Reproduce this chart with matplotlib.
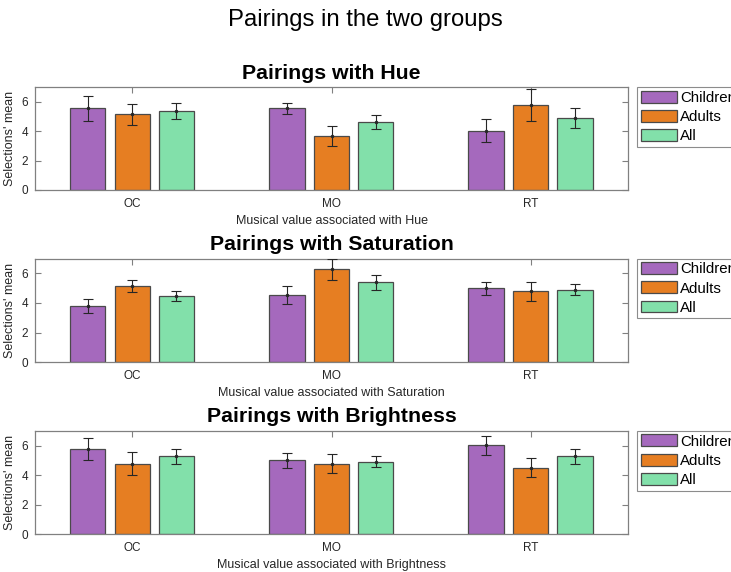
import numpy as np
import matplotlib
matplotlib.use("Agg")
import matplotlib.pyplot as plt

plt.rcParams['font.family'] = ['Liberation Sans', 'DejaVu Sans']

# Musical values on the x axis
categories = ["OC", "MO", "RT"]
groups = ["Children", "Adults", "All"]

# Mean number of selections and error half-widths, per colour dimension
hue_means = {
    "Children": [5.55, 5.55, 4.03],
    "Adults":   [5.15, 3.65, 5.78],
    "All":      [5.35, 4.60, 4.89],
}
hue_err = {
    "Children": [0.85, 0.37, 0.78],
    "Adults":   [0.70, 0.68, 1.10],
    "All":      [0.55, 0.47, 0.70],
}
sat_means = {
    "Children": [3.78, 4.52, 5.00],
    "Adults":   [5.13, 6.27, 4.78],
    "All":      [4.45, 5.40, 4.88],
}
sat_err = {
    "Children": [0.48, 0.60, 0.43],
    "Adults":   [0.41, 0.72, 0.63],
    "All":      [0.34, 0.52, 0.37],
}
bri_means = {
    "Children": [5.77, 5.01, 6.02],
    "Adults":   [4.78, 4.77, 4.51],
    "All":      [5.26, 4.91, 5.27],
}
bri_err = {
    "Children": [0.74, 0.50, 0.64],
    "Adults":   [0.75, 0.64, 0.66],
    "All":      [0.53, 0.38, 0.49],
}

dimensions = ["Hue", "Saturation", "Brightness"]
means_all = [hue_means, sat_means, bri_means]
errs_all = [hue_err, sat_err, bri_err]

colors = {"Children": "#A569BD", "Adults": "#E67E22", "All": "#82E0AA"}
offsets = {"Children": -0.224, "Adults": 0.0, "All": 0.221}
bar_w = 0.178

W, H = 731, 572
fig = plt.figure(figsize=(W / 100, H / 100), dpi=100)
fig.suptitle("Pairings in the two groups", fontsize=17.2, y=1 - 20 / H, va="center")

spine_c = "#808080"
text_c = "#262626"

# axes boxes in pixels: (top, bottom)
boxes = [(87, 190), (258.5, 362.3), (430.7, 534.3)]
left_px, right_px = 35, 628

x = np.arange(1, len(categories) + 1)

for dim, means, errs, (top, bot) in zip(dimensions, means_all, errs_all, boxes):
    ax = fig.add_axes([left_px / W, 1 - bot / H, (right_px - left_px) / W, (bot - top) / H])
    for g in groups:
        ax.bar(x + offsets[g], means[g], width=bar_w, color=colors[g],
               edgecolor="#4a4a4a", linewidth=0.9, label=g, zorder=2)
        ax.errorbar(x + offsets[g], means[g], yerr=errs[g], fmt=".", color="#262626",
                    markersize=3, elinewidth=0.8, capsize=3.5, capthick=0.8, zorder=3)
    ax.set_xlim(0.512, 3.488)
    ax.set_ylim(0, 7)
    ax.set_yticks([0, 2, 4, 6])
    ax.set_xticks(x)
    ax.set_xticklabels(categories)
    ax.tick_params(direction="in", length=4, width=0.8, colors=spine_c,
                   labelcolor=text_c, labelsize=8.5, top=True, right=True, pad=5.5)
    ax.tick_params(axis="y", pad=5)
    for s in ax.spines.values():
        s.set_color(spine_c)
        s.set_linewidth(0.9)
    ax.set_ylabel("Selections' mean", fontsize=9, color=text_c, labelpad=4)
    ax.set_xlabel(f"Musical value associated with {dim}", fontsize=9, color=text_c, labelpad=4)
    ax.set_title(f"Pairings with {dim}", fontsize=15.3, fontweight="bold", pad=6)
    leg = ax.legend(loc="upper left", bbox_to_anchor=((637.3 - left_px) / (right_px - left_px), 1.0),
                    borderaxespad=0, fontsize=10.8, fancybox=False, framealpha=1,
                    edgecolor="#8c8c8c", handlelength=2.4, handleheight=0.85,
                    handletextpad=0.22, borderpad=0.25, labelspacing=0.33)
    leg.get_frame().set_linewidth(0.8)

fig.savefig("out.png", dpi=100)
